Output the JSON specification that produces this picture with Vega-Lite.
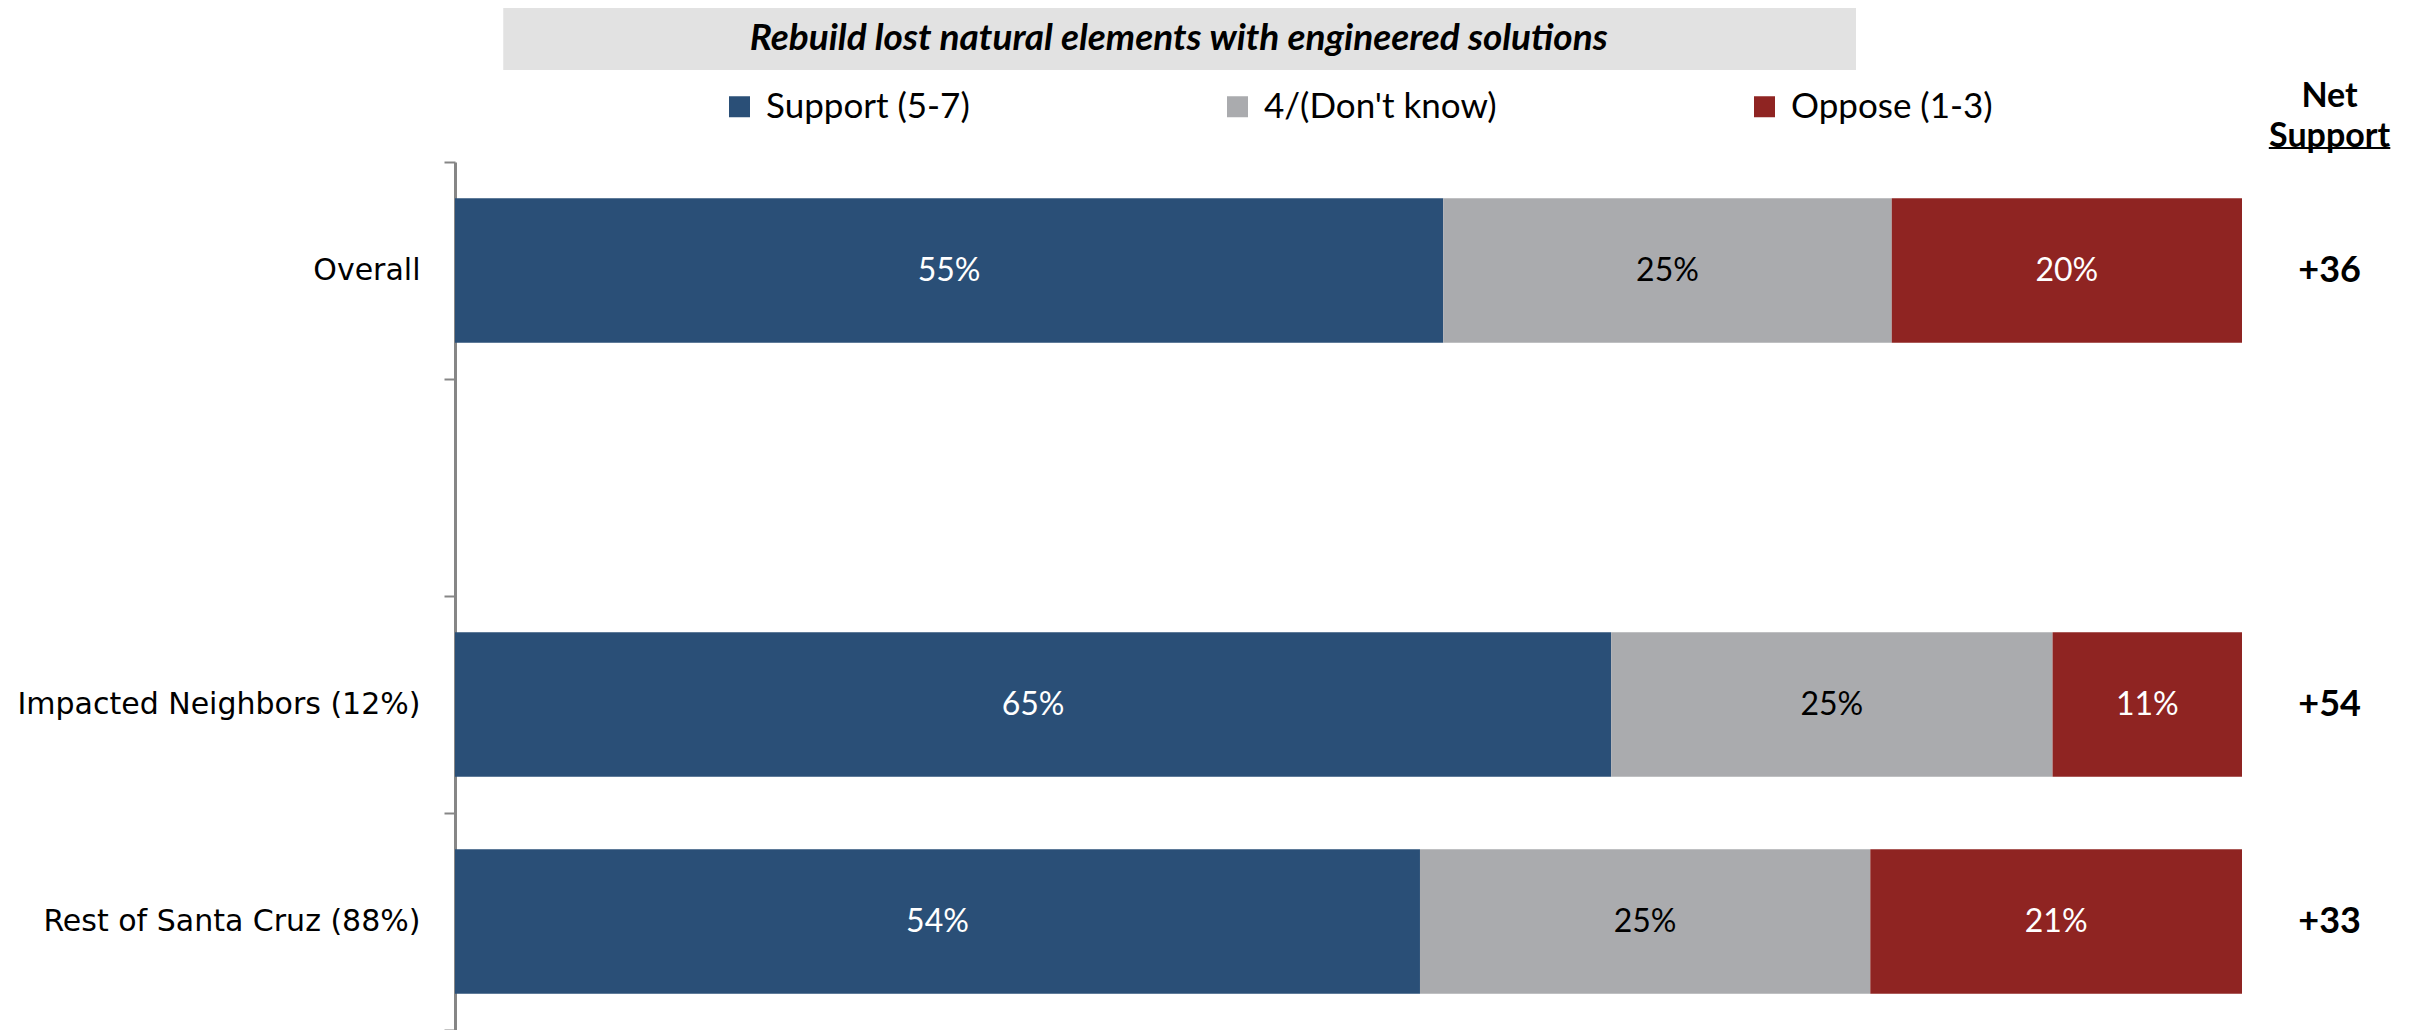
{
  "$schema": "https://vega.github.io/schema/vega-lite/v6.json",
  "padding": {"left": 16, "top": 8, "right": 0, "bottom": 0},
  "spacing": 10,
  "bounds": "flush",
  "config": {"view": {"stroke": null}, "font": "Lato", "text": {"font": "Lato"}},
  "datasets": {
    "bars": [
      {"group": "Overall", "response": "Support (5-7)", "k": 1, "value": 0.553},
      {"group": "Overall", "response": "4/(Don't know)", "k": 2, "value": 0.251},
      {"group": "Overall", "response": "Oppose (1-3)", "k": 3, "value": 0.196},
      {"group": "Impacted Neighbors (12%)", "response": "Support (5-7)", "k": 1, "value": 0.647},
      {"group": "Impacted Neighbors (12%)", "response": "4/(Don't know)", "k": 2, "value": 0.247},
      {"group": "Impacted Neighbors (12%)", "response": "Oppose (1-3)", "k": 3, "value": 0.106},
      {"group": "Rest of Santa Cruz (88%)", "response": "Support (5-7)", "k": 1, "value": 0.540},
      {"group": "Rest of Santa Cruz (88%)", "response": "4/(Don't know)", "k": 2, "value": 0.252},
      {"group": "Rest of Santa Cruz (88%)", "response": "Oppose (1-3)", "k": 3, "value": 0.208}
    ],
    "net": [
      {"group": "Overall", "net": "+36"},
      {"group": "Impacted Neighbors (12%)", "net": "+54"},
      {"group": "Rest of Santa Cruz (88%)", "net": "+33"}
    ]
  },
  "resolve": {"scale": {"x": "independent", "y": "independent"}, "legend": {"color": "independent"}},
  "vconcat": [
    {
      "width": 1787,
      "height": 144,
      "data": {"values": [{"row": 1}]},
      "layer": [
        {
          "mark": {"type": "rect", "color": "#e2e2e2"},
          "encoding": {
            "x": {"datum": 0.027, "type": "quantitative", "scale": {"domain": [0, 1]}, "axis": null},
            "x2": {"datum": 0.784},
            "y": {"datum": 0, "type": "quantitative", "scale": {"domain": [0, 1], "reverse": true}, "axis": null},
            "y2": {"datum": 0.431}
          }
        },
        {
          "mark": {"type": "text", "text": "Rebuild lost natural elements with engineered solutions", "font": "Lato", "fontSize": 37, "fontWeight": "bold", "fontStyle": "italic", "color": "#000000", "baseline": "middle", "align": "center"},
          "encoding": {
            "x": {"datum": 0.405, "type": "quantitative"},
            "y": {"datum": 0.215, "type": "quantitative"}
          }
        },
        {
          "mark": {"type": "text", "text": "Net\nSupport", "lineBreak": "\n", "lineHeight": 40, "font": "Lato", "fontSize": 34, "fontWeight": "bold", "color": "#000000", "baseline": "middle", "align": "center"},
          "encoding": {
            "x": {"datum": 1.049, "type": "quantitative"},
            "y": {"datum": 0.615, "type": "quantitative"}
          }
        },
        {
          "mark": {"type": "rule", "color": "#000000", "strokeWidth": 2},
          "encoding": {
            "x": {"datum": 1.015, "type": "quantitative"},
            "x2": {"datum": 1.083},
            "y": {"datum": 0.972, "type": "quantitative"}
          }
        }
      ]
    },
    {
      "width": 1787,
      "height": 868,
      "layer": [
        {
          "data": {"name": "bars"},
          "transform": [
            {"stack": "value", "groupby": ["group"], "sort": [{"field": "k", "order": "ascending"}], "as": ["v0", "v1"]}
          ],
          "mark": {"type": "bar", "height": {"band": 0.667}},
          "encoding": {
            "y": {
              "field": "group", "type": "nominal",
              "scale": {"domain": ["Overall", "", "Impacted Neighbors (12%)", "Rest of Santa Cruz (88%)"], "paddingInner": 0, "paddingOuter": 0},
              "axis": {"title": null, "tickBand": "extent", "labelFont": "DejaVu Sans", "labelFontSize": 30, "labelLimit": 0, "labelColor": "#000000", "domainColor": "#868686", "domainWidth": 3, "tickColor": "#868686", "tickWidth": 2, "tickSize": 11, "labelPadding": 24}
            },
            "x": {"field": "v0", "type": "quantitative", "scale": {"domain": [0, 1]}, "axis": null},
            "x2": {"field": "v1"},
            "color": {
              "field": "response", "type": "nominal",
              "scale": {"domain": ["Support (5-7)", "4/(Don't know)", "Oppose (1-3)"], "range": ["#2a4f77", "#aaabae", "#8f2422"]},
              "legend": {"title": null, "orient": "none", "direction": "horizontal", "legendX": 267, "legendY": -73, "symbolType": "square", "symbolSize": 441, "symbolStrokeWidth": 0, "labelFont": "Lato", "labelFontSize": 35, "labelLimit": 0, "labelColor": "#000000", "labelOffset": 9, "columnPadding": 250, "padding": 0}
            }
          }
        },
        {
          "data": {"name": "bars"},
          "transform": [
            {"stack": "value", "groupby": ["group"], "sort": [{"field": "k", "order": "ascending"}], "as": ["v0", "v1"]},
            {"calculate": "(datum.v0 + datum.v1) / 2", "as": "mid"}
          ],
          "mark": {"type": "text", "font": "Lato", "fontSize": 32, "baseline": "middle", "align": "center"},
          "encoding": {
            "y": {"field": "group", "type": "nominal"},
            "x": {"field": "mid", "type": "quantitative"},
            "text": {"field": "value", "type": "quantitative", "format": ".0%"},
            "color": {"condition": {"test": "datum.k === 2", "value": "#000000"}, "value": "#ffffff"}
          }
        },
        {
          "data": {"name": "net"},
          "mark": {"type": "text", "font": "Lato", "fontSize": 36, "fontWeight": "bold", "baseline": "middle", "align": "center", "color": "#000000"},
          "encoding": {
            "y": {"field": "group", "type": "nominal"},
            "x": {"datum": 1.049, "type": "quantitative"},
            "text": {"field": "net", "type": "nominal"}
          }
        }
      ]
    }
  ]
}
